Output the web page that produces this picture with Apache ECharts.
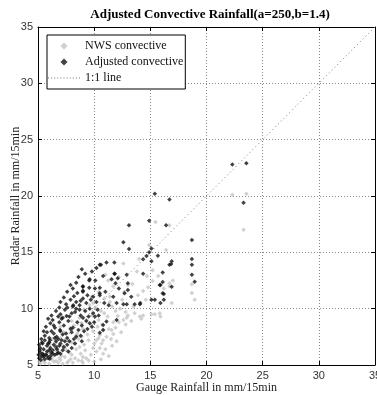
<!DOCTYPE html>
<html>
<head>
<meta charset="utf-8">
<script src="https://cdn.jsdelivr.net/npm/echarts@6/dist/echarts.min.js"></script>
<style>
  html, body { margin: 0; padding: 0; background: #fff; }
  #chart { width: 377px; height: 395px; }
</style>
</head>
<body>
<div id="chart"></div>
<script>
// axis ticks
var ticks = [5, 10, 15, 20, 25, 30, 35];

// NWS convective (gauge, radar)
var nwsData = [
  [23.55,20.2],[23.3,17.0],[22.3,20.1],[15.46,17.7],[16.7,17.4],[14.9,15.65],[16.4,15.2],
  [12.6,14.0],[14.7,12.9],[15.2,13.4],[15.7,12.9],[18.7,12.16],[15.2,12.45],[16.7,12.25],
  [17.0,12.5],[14.36,11.57],[16.2,11.8],[18.7,11.4],[18.95,10.8],[16.9,10.5],[14.36,9.4],
  [15.4,9.5],[15.9,9.3],[14.2,9.1],[16.7,12.0],[11.4,11.06],[15.84,9.6],[15.1,9.5],
  [14.07,9.3],[13.6,9.6],[13.0,9.4],[12.1,9.35],[12.6,9.0],[11.55,8.1],[11.7,7.75],
  [10.8,7.2],[10.5,7.66],[11.1,7.5],[10.66,6.9],[11.25,12.5],[9.77,11.06],[9.9,10.5],
  [10.8,8.1],[10.2,7.2],[13.0,12.1],
  [5.2,5.1],[5.6,5.2],[6.0,5.1],[6.4,5.3],[6.8,5.2],[7.2,5.1],[7.7,5.3],[8.1,5.2],[8.6,5.4],
  [9.0,5.2],[5.4,5.4],[6.2,5.5],[7.0,5.45],[7.9,5.5],[9.5,5.4],[10.0,5.3],[10.6,5.5],
  [5.3,5.7],[5.8,6.0],[6.3,5.7],[6.7,6.2],[7.1,5.8],[7.5,6.3],[8.0,5.9],[8.4,6.4],[8.8,6.0],
  [9.2,6.3],[9.7,5.9],[10.2,6.2],[10.8,6.0],[7.8,6.1],[6.5,6.4],[9.0,5.7],[11.3,5.8],
  [6.0,6.8],[6.6,7.0],[7.2,6.7],[7.7,7.2],[8.2,6.9],[8.6,7.3],[9.1,6.8],[9.5,7.2],[10.0,6.9],
  [10.4,7.4],[7.0,7.4],[8.9,7.5],[11.6,6.7],[12.0,7.1],[6.3,7.3],
  [7.3,7.9],[7.9,8.3],[8.5,7.8],[9.0,8.2],[9.4,7.7],[9.9,8.0],[10.3,8.4],[8.2,8.5],[11.9,8.3],
  [12.4,7.9],[12.8,8.6],[7.0,8.4],
  [8.0,8.9],[8.7,9.2],[9.3,9.0],[9.8,9.4],[10.4,9.0],[11.2,9.3],[11.7,8.8],[13.3,8.9],[8.9,8.7],
  [9.1,9.9],[9.6,10.3],[10.1,10.1],[10.6,9.8],[11.6,10.2],[12.3,10.0],[10.9,10.9],[12.8,9.7],
  [13.9,11.2],[12.5,10.8],
  [10.4,11.5],[11.7,12.0],[12.2,12.8],[13.4,12.2],[13.8,13.3],[11.0,13.0],[14.0,14.4],
  [5.1,5.3],[5.5,5.9],[6.1,6.1],[6.9,5.6],[7.4,5.7],[8.3,5.6],[8.7,6.6],[9.3,5.6],[9.9,6.5],
  [10.5,6.5],[11.0,6.4],[11.5,7.3],[7.4,6.5],[8.0,7.0],[8.4,7.6],[9.7,8.6],[10.7,8.6],
  [11.3,8.2],[12.2,8.8],[12.9,9.2],[11.9,9.8],[10.9,9.6],[11.4,10.6],[12.7,11.5],[13.5,10.2],
  [14.6,10.8],[14.8,11.9],[7.6,5.2],[6.6,5.35],[8.9,5.35]
];

// Adjusted convective (gauge, radar)
var adjData = [
  [22.3,22.8],[23.55,22.9],[23.3,19.4],[14.9,17.8],[16.4,17.4],[18.7,16.1],[15.4,20.2],
  [16.7,19.7],[13.1,17.4],[12.6,15.9],[13.1,15.3],[15.1,15.35],[14.9,15.0],[14.66,14.67],
  [14.36,14.38],[15.1,14.2],[15.67,14.7],[18.7,14.4],[18.7,13.9],[16.9,14.2],[16.7,13.9],
  [14.36,13.1],[16.1,13.2],[18.7,13.0],[18.95,12.4],[16.1,12.36],[15.9,12.1],[16.9,11.95],
  [16.2,11.3],[15.1,10.8],[15.4,10.8],[15.9,10.5],[16.2,10.8],[14.07,10.4],
  [11.1,14.1],[10.5,13.9],[11.8,14.1],[11.8,13.1],[10.8,12.9],[9.56,12.5],[10.1,12.5],
  [12.9,13.0],[12.1,12.7],[11.55,12.6],[9.0,11.95],[9.56,11.86],[10.07,11.8],[10.5,11.86],
  [13.0,12.25],[13.0,11.65],[9.0,11.6],[10.5,11.2],[9.9,11.06],[13.3,11.06],[11.7,11.06],
  [9.0,10.9],[16.85,13.96],[11.84,13.1],[11.9,12.25],[12.7,11.36],[15.84,12.1],[16.1,11.36],
  [12.0,10.5],[12.6,10.4],[12.9,10.4],[13.6,10.4],[14.1,10.5],[10.5,11.36],[10.9,10.5],
  [12.0,9.0],[11.1,8.85],[10.8,8.55],[10.8,8.1],[10.5,7.87],
  [10.6,13.9],[9.6,12.6],[9.0,12.0],[9.0,11.5],[8.14,10.3],[8.7,10.3],[8.7,9.9],[9.6,10.0],
  [9.6,8.7],[10.07,9.3],[7.55,9.35],[8.0,9.6],[6.96,8.1],[6.66,7.5],[6.07,7.2],
  [5.1,5.6],[5.3,5.8],[5.5,5.7],[5.7,5.9],[5.9,5.6],[6.1,5.8],[6.3,6.0],[5.2,6.1],[5.4,6.0],
  [5.8,6.2],[6.5,5.9],[6.8,6.1],[5.05,5.9],[5.6,5.5],[6.0,6.3],[7.0,6.0],
  [5.2,6.5],[5.5,6.4],[5.8,6.7],[6.1,6.5],[6.4,6.8],[6.7,6.4],[7.0,6.9],[7.3,6.6],[5.4,6.9],
  [6.0,7.0],[6.6,7.1],[7.6,6.8],[8.0,6.5],[5.1,6.8],[6.3,6.3],[6.9,6.7],
  [5.3,7.3],[5.6,7.6],[6.0,7.4],[6.4,7.8],[6.8,7.3],[7.2,7.7],[7.6,7.4],[8.0,7.9],[8.4,7.5],
  [5.8,7.9],[6.2,8.0],[7.0,8.0],[7.4,7.1],[8.8,7.6],[9.1,8.0],[5.5,8.0],
  [5.7,8.4],[6.1,8.7],[6.5,8.3],[6.9,8.8],[7.3,8.5],[7.7,8.9],[8.1,8.3],[8.5,8.8],[8.9,8.5],
  [6.3,9.0],[7.1,9.1],[9.3,8.9],[9.8,8.4],[7.9,8.2],[5.9,9.1],
  [6.2,9.4],[6.6,9.8],[7.0,9.5],[7.4,9.9],[7.8,9.3],[8.3,9.7],[8.8,9.4],[9.2,9.8],[9.9,9.6],
  [6.9,10.1],[8.4,10.0],[10.3,9.9],[7.2,9.2],
  [7.0,10.6],[7.5,10.4],[7.9,10.8],[8.4,10.6],[9.3,10.5],[9.7,10.8],[7.3,11.0],[8.2,11.1],
  [10.2,10.6],[11.3,10.3],
  [7.6,11.5],[8.1,11.8],[8.5,11.4],[7.9,12.1],[8.4,12.3],[11.0,11.5],[12.2,11.8],
  [8.6,12.8],[9.2,13.1],[9.8,13.3],[8.9,13.5],[10.2,13.6],
  [5.15,6.3],[5.35,7.0],[5.6,7.2],[5.9,6.9],[6.2,6.1],[6.5,7.4],[6.7,6.0],[7.1,7.2],[7.5,7.8],
  [7.8,7.1],[8.2,7.3],[8.6,8.1],[9.0,9.2],[9.5,9.3],[5.5,5.9],[5.8,5.8],[6.05,5.55],[5.25,5.45],
  [6.6,6.6],[7.2,6.3],[7.7,6.2],[8.3,6.9],[8.9,7.1],[9.4,8.2],[10.0,8.8],[10.4,9.4],[6.4,8.5],
  [6.8,9.3],[7.6,10.1],[8.1,10.2],[8.8,10.7],[9.4,11.2]
];

// 1:1 reference line
var oneToOne = [[5, 5], [35, 35]];

var chart = echarts.init(document.getElementById('chart'));

var serif = '"Liberation Serif", "DejaVu Serif", serif';
var sans = '"Liberation Sans", Arial, sans-serif';
var diamondIcon = 'path://M5,0L10,5L5,10L0,5Z';
// dotted line icon for the legend
var dotIcon = 'path://';
for (var d = 0; d <= 30; d += 3) dotIcon += 'M' + d + ',0h1v1h-1z';

function axisBase(pos, showLabel, name) {
  return {
    type: 'value',
    position: pos,
    min: ticks[0],
    max: ticks[ticks.length - 1],
    interval: 5,
    name: name || '',
    nameLocation: 'middle',
    nameMoveOverlap: false,
    nameTextStyle: { fontFamily: serif, fontSize: 12, color: '#222' },
    axisLine: { show: true, onZero: false, lineStyle: { color: '#000', width: 1 } },
    axisTick: { show: true, inside: true, length: 4, lineStyle: { color: '#000' } },
    axisLabel: { show: showLabel, fontFamily: sans, fontSize: 11, color: '#333', margin: 5 },
    splitLine: { show: false }
  };
}

var xMain = axisBase('bottom', true, 'Gauge Rainfall in mm/15min');
xMain.nameGap = 17;
xMain.splitLine = { show: true, lineStyle: { type: [1, 2], color: '#888', width: 1 } };
var yMain = axisBase('left', true, 'Radar Rainfall in mm/15min');
yMain.nameGap = 16;
yMain.splitLine = { show: true, lineStyle: { type: [1, 2], color: '#888', width: 1 } };

var option = {
  backgroundColor: '#fff',
  animation: false,
  title: {
    text: 'Adjusted Convective Rainfall(a=250,b=1.4)',
    left: 205,
    textAlign: 'center',
    top: 3,
    textStyle: { fontFamily: serif, fontSize: 13, fontWeight: 'bold', color: '#000' }
  },
  grid: { left: 38, right: 2, top: 27, bottom: 30, outerBoundsMode: 'none' },
  legend: {
    orient: 'vertical',
    left: 47,
    top: 35,
    itemGap: 4,
    itemWidth: 32,
    itemHeight: 7,
    padding: [5, 2, 5, 1],
    symbolKeepAspect: true,
    backgroundColor: '#fff',
    borderColor: '#000',
    borderWidth: 1,
    borderRadius: 0,
    textStyle: { fontFamily: serif, fontSize: 12, color: '#111' },
    data: [
      { name: 'NWS convective', icon: diamondIcon },
      { name: 'Adjusted convective', icon: diamondIcon },
      { name: '1:1 line', icon: dotIcon }
    ]
  },
  xAxis: [xMain, axisBase('top', false)],
  yAxis: [yMain, axisBase('right', false)],
  series: [
    {
      name: 'NWS convective',
      type: 'scatter',
      symbol: 'diamond',
      symbolSize: 4.5,
      itemStyle: { color: '#c4c4c4' },
      data: nwsData
    },
    {
      name: 'Adjusted convective',
      type: 'scatter',
      symbol: 'diamond',
      symbolSize: 4.5,
      itemStyle: { color: '#111' },
      data: adjData
    },
    {
      name: '1:1 line',
      type: 'line',
      symbol: 'none',
      lineStyle: { type: [1, 3], color: '#777', width: 1 },
      itemStyle: { color: '#777' },
      data: oneToOne
    }
  ]
};

chart.setOption(option);
</script>
</body>
</html>
